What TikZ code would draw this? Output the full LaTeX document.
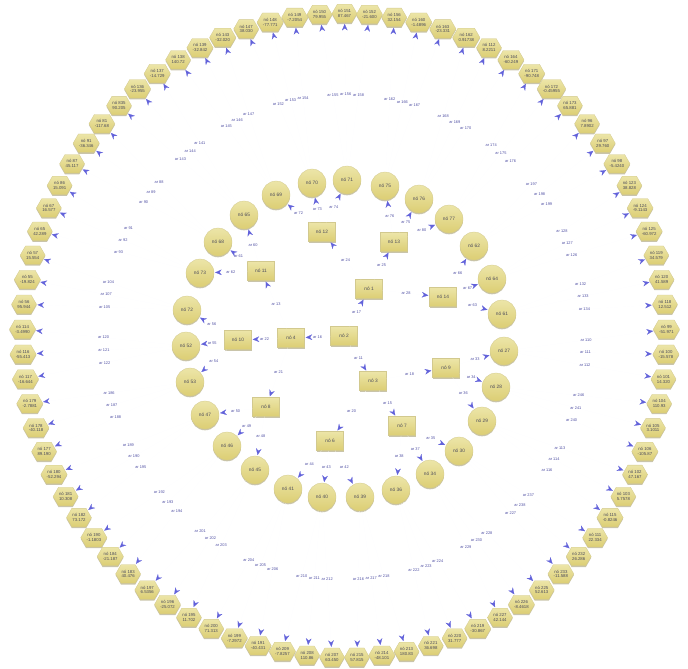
\documentclass[tikz,border=0pt]{standalone}
\usepackage{fontspec}
\setmainfont{Liberation Sans}
\usetikzlibrary{shapes.symbols,shadows,arrows.meta,calc}
\definecolor{nodetop}{HTML}{ECE5A8}
\definecolor{nodebottom}{HTML}{DCCE74}
\definecolor{nodeedge}{HTML}{D2C98E}
\definecolor{nodeshadow}{HTML}{C9C4AA}
\definecolor{nodetext}{HTML}{4A4A5A}
\definecolor{arrowblue}{HTML}{6262DA}
\definecolor{labelblue}{HTML}{4E4EA2}
\definecolor{edgeline}{HTML}{FCFCFF}
\begin{document}
\begin{tikzpicture}[x=1pt,y=-1pt,
    every node/.style={font=\fontsize{4.8}{5.4}\selectfont, text=nodetext},
    box/.style={draw=nodeedge, line width=0.3pt, top color=nodetop, bottom color=nodebottom, inner sep=0.5pt, align=center,
      drop shadow={shadow xshift=0pt, shadow yshift=-1.3pt, fill=nodeshadow, opacity=1}},
    sqnode/.style={box, rectangle, minimum width=27pt, minimum height=19pt},
    circnode/.style={box, circle, minimum size=28pt},
    hexnode/.style={box, signal, signal to=west and east, signal pointer angle=120, minimum width=25pt, minimum height=18.5pt, font=\fontsize{4.3}{4.8}\selectfont},
    link/.style={draw=edgeline, line width=0.15pt, shorten >=1pt, -{Stealth[length=6.5pt,width=5.5pt,color=arrowblue]}},
    arlabel/.style={font=\fontsize{3.9}{4.2}\selectfont, text=labelblue, inner sep=0.5pt}
  ]
  \useasboundingbox (0,0) rectangle (688,669);

  % inner squares
  \node[sqnode] (s2) at (344,336) {nó 2};
  \node[sqnode] (s4) at (291,338) {nó 4};
  \node[sqnode] (s1) at (369,289) {nó 1};
  \node[sqnode] (s3) at (373,381) {nó 3};
  \node[sqnode] (s10) at (238,340) {nó 10};
  \node[sqnode] (s8) at (266,407) {nó 8};
  \node[sqnode] (s11) at (261,271) {nó 11};
  \node[sqnode] (s12) at (322,232) {nó 12};
  \node[sqnode] (s13) at (394,242) {nó 13};
  \node[sqnode] (s14) at (443,297) {nó 14};
  \node[sqnode] (s9) at (446,368) {nó 9};
  \node[sqnode] (s7) at (402,426) {nó 7};
  \node[sqnode] (s6) at (330,441) {nó 6};

  \draw[link] (s2) -- node[arlabel] {ar 16} (s4);
  \draw[link] (s2) -- node[arlabel] {ar 17} (s1);
  \draw[link] (s2) -- node[arlabel] {ar 11} (s3);
  \draw[link] (s4) -- node[arlabel] {ar 22} (s10);
  \draw[link] (s4) -- node[arlabel] {ar 21} (s8);
  \draw[link] (s4) -- node[arlabel] {ar 13} (s11);
  \draw[link] (s1) -- node[arlabel] {ar 24} (s12);
  \draw[link] (s1) -- node[arlabel] {ar 25} (s13);
  \draw[link] (s1) -- node[arlabel] {ar 28} (s14);
  \draw[link] (s3) -- node[arlabel] {ar 18} (s9);
  \draw[link] (s3) -- node[arlabel] {ar 15} (s7);
  \draw[link] (s3) -- node[arlabel] {ar 20} (s6);

  % middle ring of circles
  \foreach \n/\x/\y/\lab in {c0/276/195/69, c1/312/183/70, c2/347/180/71, c3/385/186/75, c4/419/199/76,
      c5/449/219/77, c6/474/246/62, c7/492/279/64, c8/502/314/61, c9/504/351/27, c10/496/387/28,
      c11/482/421/29, c12/459/451/30, c13/430/474/34, c14/396/490/36, c15/360/497/39, c16/322/497/40,
      c17/288/489/41, c18/255/470/45, c19/227/446/46, c20/205/415/47, c21/190/382/53, c22/186/346/52,
      c23/187/310/72, c24/200/273/73, c25/218/242/68, c26/244/215/65}
    \node[circnode] (\n) at (\x,\y) {nó \lab};

  \foreach \p/\c/\ar in {s12/c0/72, s12/c1/73, s12/c2/74, s13/c3/76, s13/c4/75, s13/c5/80,
      s14/c6/66, s14/c7/67, s14/c8/63, s9/c9/33, s9/c10/34, s9/c11/36, s7/c12/35, s7/c13/37, s7/c14/38,
      s6/c15/42, s6/c16/43, s6/c17/44, s8/c18/48, s8/c19/49, s8/c20/50, s10/c21/54, s10/c22/55,
      s10/c23/56, s11/c24/62, s11/c25/61, s11/c26/60}
    \draw[link] (\p) -- node[arlabel] {ar \ar} (\c);

  % outer ring of hexagons, clockwise from the top
  \foreach \lab/\val/\ar [count=\j from 0] in {151/87.467/156, 152/-21.600/158, 156/32.154/162, 160/-1.4896/166,
      163/-23.331/167, 162/0.91738/168, 112/8.2211/169, 164/-60.249/170, 171/-90.748/174, 172/-0.45955/175,
      173/65.881/176, 96/7.8902/197, 97/29.760/198, 98/-5.4240/199, 123/38.828/128, 124/-9.1143/127,
      125/-60.972/126, 119/34.579/132, 120/41.589/133, 118/12.512/134, 99/-51.971/110, 100/-15.578/111,
      101/14.320/112, 104/110.93/246, 105/3.1011/241, 106/-105.87/240, 102/47.167/113, 103/5.7578/114,
      115/-0.8246/116, 111/22.334/237, 232/26.286/238, 233/-11.588/227, 225/52.613/228, 226/-8.4618/230,
      227/42.144/229, 219/-30.867/224, 220/31.777/223, 221/36.698/222, 213/180.83/218, 214/-48.101/217,
      215/57.815/216, 207/63.450/212, 208/110.86/211, 209/-7.8257/210, 191/-40.431/206, 199/-7.2972/205,
      200/71.313/204, 195/11.702/203, 196/-25.072/202, 197/6.5356/201, 183/40.476/194, 184/-21.187/193,
      190/-1.1803/192, 182/73.172/195, 181/10.308/190, 180/-52.294/189, 177/89.190/188, 178/-40.118/187,
      179/-2.7881/186, 117/-16.644/122, 116/-55.413/121, 114/-3.4990/120, 56/95.944/105, 55/-19.824/107,
      57/15.554/104, 65/42.289/93, 67/16.577/92, 86/15.091/91, 87/45.117/90, 91/-36.346/89, 81/-117.68/88,
      835/90.205/143, 136/-23.955/144, 137/-14.729/141, 138/140.72/145, 139/-32.842/146, 143/-32.020/147,
      147/38.030/152, 148/-77.771/153, 149/-7.2054/154, 150/79.955/155} {
    \pgfmathsetmacro\ang{-90+\j*4.44444}
    \pgfmathtruncatemacro\g{mod(floor((\j+7)/3),27)}
    \node[hexnode] (h\j) at ($(344.5,335.5)+(\ang:322)$) {nó \lab\\\val};
    \draw[link] (c\g) -- node[arlabel] {ar \ar} (h\j);
  }
\end{tikzpicture}
\end{document}
